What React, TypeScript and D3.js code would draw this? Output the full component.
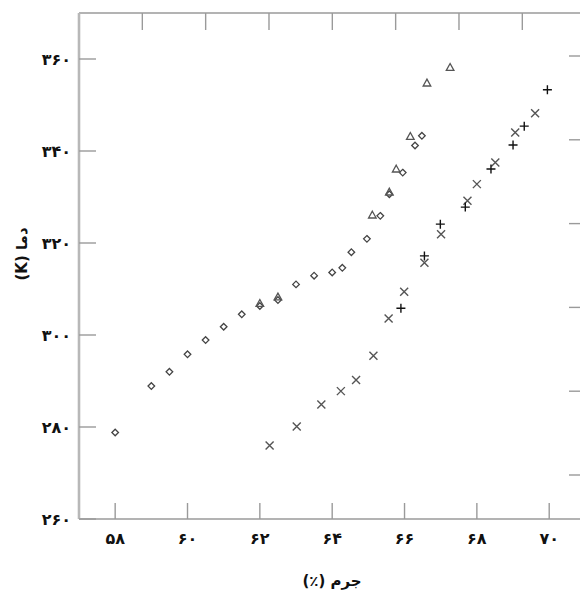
import React from "react";
import * as d3 from "d3";

// Data
const diamondX = [58.0, 59.0, 59.5, 60.0, 60.5, 61.0, 61.5, 62.0, 62.5, 63.0, 63.5, 64.0, 64.28, 64.53, 64.96, 65.33, 65.58, 65.95, 66.29, 66.48];
const diamondY = [278.8, 288.9, 292.0, 295.8, 298.9, 301.8, 304.5, 306.3, 307.6, 311.0, 312.9, 313.6, 314.6, 318.0, 320.9, 325.9, 330.6, 335.3, 341.2, 343.3];

const triangleX = [62.0, 62.5, 65.11, 65.58, 65.77, 66.16, 66.62, 67.26];
const triangleY = [306.8, 308.2, 326.0, 331.0, 336.0, 343.1, 354.7, 358.1];

const crossX = [62.27, 63.02, 63.7, 64.24, 64.66, 65.14, 65.56, 65.99, 66.55, 67.01, 67.74, 68.0, 68.51, 69.06, 69.61];
const crossY = [276.0, 280.1, 284.9, 287.8, 290.2, 295.5, 303.6, 309.4, 315.7, 321.9, 329.2, 332.8, 337.5, 344.0, 348.2];

const plusX = [65.9, 66.55, 66.99, 67.68, 68.39, 69.0, 69.31, 69.95];
const plusY = [305.8, 317.2, 324.1, 327.8, 336.1, 341.3, 345.4, 353.3];

const xTicks = [58, 60, 62, 64, 66, 68, 70];
const yTicks = [260, 280, 300, 320, 340, 360];
const topTicks = [1, 2, 3, 4, 5, 6, 7];
const rightTicks = [1, 2, 3, 4, 5, 6];

const xLabel = "جرم (٪)";
const yLabel = "دما (K)";

const W = 580;
const H = 591;
const left = 79;
const top = 13;
const bottom = 519;
const right = 585;

const fa = (n: number) => String(n).replace(/\d/g, (d) => "۰۱۲۳۴۵۶۷۸۹"[+d]);

export default function App() {
  const x = d3.scaleLinear().domain([57, 71]).range([left, left + 14 * 36.17]);
  const y = d3.scaleLinear().domain([260, 370]).range([bottom, bottom - 110 * 4.6]);
  const xTop = d3.scaleLinear().domain([0, 8]).range([left, left + 8 * 63.33]);
  const yRight = d3.scaleLinear().domain([1, 6]).range([475, 56]);

  const axisCol = "#9a9a9a";
  const font = "'DejaVu Sans', sans-serif";

  const diamonds = diamondX.map((v, i) => [x(v), y(diamondY[i])]);
  const triangles = triangleX.map((v, i) => [x(v), y(triangleY[i])]);
  const crosses = crossX.map((v, i) => [x(v), y(crossY[i])]);
  const pluses = plusX.map((v, i) => [x(v), y(plusY[i])]);

  return (
    <svg
      width={W}
      height={H}
      style={{ position: "absolute", left: 0, top: 0, background: "#fff" }}
      fontFamily={font}
    >
      <rect x={0} y={0} width={W} height={H} fill="#fff" />
      {/* frame */}
      <line x1={left} y1={top} x2={right} y2={top} stroke={axisCol} strokeWidth={1.3} />
      <line x1={left} y1={bottom} x2={right} y2={bottom} stroke={axisCol} strokeWidth={1.5} />
      <line x1={left} y1={top} x2={left} y2={bottom} stroke="#b8b8b8" strokeWidth={2.6} />

      {/* bottom ticks */}
      {xTicks.map((t) => (
        <g key={"xt" + t}>
          <line x1={x(t)} y1={bottom} x2={x(t)} y2={bottom - 16} stroke={axisCol} strokeWidth={1.4} />
          <text x={x(t)} y={bottom + 25} textAnchor="middle" fontSize={16} fontWeight="bold" fill="#111">
            {fa(t)}
          </text>
        </g>
      ))}
      {/* left ticks */}
      {yTicks.map((t) => (
        <g key={"yt" + t}>
          <line x1={left} y1={y(t)} x2={left + 17} y2={y(t)} stroke={axisCol} strokeWidth={1.4} />
          <text x={left - 8} y={y(t) + 6} textAnchor="end" fontSize={16} fontWeight="bold" fill="#111">
            {fa(t)}
          </text>
        </g>
      ))}
      {/* top ticks */}
      {topTicks.map((t) => (
        <line key={"tt" + t} x1={xTop(t)} y1={top} x2={xTop(t)} y2={top + 17} stroke={axisCol} strokeWidth={1.4} />
      ))}
      {/* right ticks */}
      {rightTicks.map((t) => (
        <line key={"rt" + t} x1={569} y1={yRight(t)} x2={W} y2={yRight(t)} stroke={axisCol} strokeWidth={1.4} />
      ))}

      {/* diamonds */}
      {diamonds.map(([cx, cy], i) => (
        <path
          key={"d" + i}
          d={`M${cx},${cy - 3.3}L${cx + 3.3},${cy}L${cx},${cy + 3.3}L${cx - 3.3},${cy}Z`}
          fill="#fff"
          stroke="#444"
          strokeWidth={1.3}
        />
      ))}
      {/* triangles */}
      {triangles.map(([cx, cy], i) => (
        <path
          key={"t" + i}
          d={`M${cx},${cy - 4.2}L${cx + 3.8},${cy + 2.6}L${cx - 3.8},${cy + 2.6}Z`}
          fill="none"
          stroke="#555"
          strokeWidth={1.3}
        />
      ))}
      {/* crosses */}
      {crosses.map(([cx, cy], i) => (
        <path
          key={"c" + i}
          d={`M${cx - 4},${cy - 4}L${cx + 4},${cy + 4}M${cx - 4},${cy + 4}L${cx + 4},${cy - 4}`}
          stroke="#555"
          strokeWidth={1.4}
        />
      ))}
      {/* pluses */}
      {pluses.map(([cx, cy], i) => (
        <path
          key={"p" + i}
          d={`M${cx - 4.5},${cy}L${cx + 4.5},${cy}M${cx},${cy - 4.5}L${cx},${cy + 4.5}`}
          stroke="#111"
          strokeWidth={1.4}
        />
      ))}

      {/* axis titles */}
      <text x={332} y={586} textAnchor="middle" fontSize={15} fontWeight="bold" fill="#111" direction="rtl">
        {xLabel}
      </text>
      <text
        transform={`translate(27,${254}) rotate(-90)`}
        textAnchor="middle"
        fontSize={15}
        fontWeight="bold"
        fill="#111"
        direction="rtl"
      >
        {yLabel}
      </text>
    </svg>
  );
}
